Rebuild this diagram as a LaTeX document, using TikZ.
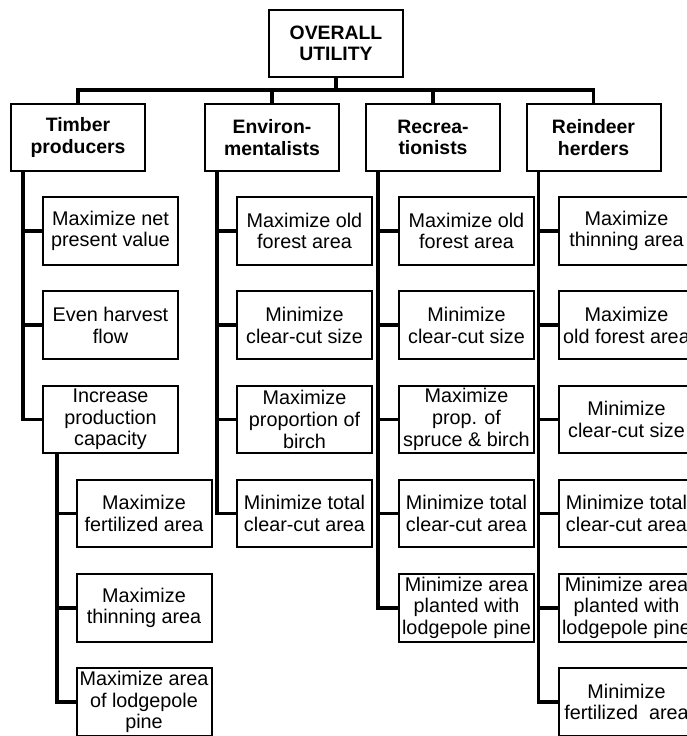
\documentclass[tikz,border=0pt]{standalone}
\usepackage{fontspec}
\setmainfont{Liberation Sans}
\begin{document}
\begin{tikzpicture}[x=1pt,y=-1pt,
  box/.style={draw, line width=2pt, fill=white, minimum width=135pt, minimum height=67.5pt, inner sep=0pt, align=center, font=\fontsize{19.8}{21.7}\selectfont},
  hbox/.style={box, minimum width=134pt, minimum height=67pt, font=\fontsize{19.4}{21.5}\selectfont\bfseries},
  conn/.style={line width=3.5pt}]
\useasboundingbox (0,0) rectangle (687,736);
\clip (0,0) rectangle (687,736);
% top and level 1
\node[hbox] (top) at (336,43.5) {OVERALL\\UTILITY};
\node[hbox] (tp) at (78,137.5) {Timber\\producers};
\node[hbox] (en) at (272,137.5) {Environ-\\mentalists};
\node[hbox] (re) at (433,137.5) {Recrea-\\tionists};
\node[hbox] (rh) at (593.5,137.5) {Reindeer\\herders};
% column 1
\node[box] (a1) at (110.5,231) {Maximize net\\present value};
\node[box] (a2) at (110.5,325.2) {Even harvest\\flow};
\node[box] (a3) at (110.5,419.4) {Increase\\production\\capacity};
\node[box] (a4) at (144,513.6) {Maximize\\fertilized area};
\node[box] (a5) at (144,607.8) {Maximize\\thinning area};
\node[box] (a6) at (144,702) {Maximize area\\of lodgepole\\pine};
% column 2
\node[box] (b1) at (304.5,231) {Maximize old\\forest area};
\node[box] (b2) at (304.5,325.2) {Minimize\\clear-cut size};
\node[box] (b3) at (304.5,419.4) {Maximize\\proportion of\\birch};
\node[box] (b4) at (304.5,513.6) {Minimize total\\clear-cut area};
% column 3
\node[box] (c1) at (466.5,231) {Maximize old\\forest area};
\node[box] (c2) at (466.5,325.2) {Minimize\\clear-cut size};
\node[box] (c3) at (466.5,419.4) {Maximize\\prop. of\\spruce \& birch};
\node[box] (c4) at (466.5,513.6) {Minimize total\\clear-cut area};
\node[box] (c5) at (466.5,607.8) {Minimize area\\planted with\\lodgepole pine};
% column 4
\node[box] (d1) at (626.5,231) {Maximize\\thinning area};
\node[box] (d2) at (626.5,325.2) {Maximize\\old forest area};
\node[box] (d3) at (626.5,419.4) {Minimize\\clear-cut size};
\node[box] (d4) at (626.5,513.6) {Minimize total\\clear-cut area};
\node[box] (d5) at (626.5,607.8) {Minimize area\\planted with\\lodgepole pine};
\node[box] (d6) at (626.5,702) {Minimize\\fertilized\ \ area};
% bus
\coordinate (bus) at (0,90);
\draw[conn] (tp.north) -- (tp.north |- bus) -- (rh.north |- bus) -- (rh.north);
\draw[conn] (top.south) -- (top.south |- bus);
\draw[conn] (en.north) -- (en.north |- bus);
\draw[conn] (re.north) -- (re.north |- bus);
% trunks
\foreach \n in {a1,a2,a3} \draw[conn] ([xshift=13pt]tp.south west) |- (\n.west);
\foreach \n in {a4,a5,a6} \draw[conn] ([xshift=15pt]a3.south west) |- (\n.west);
\foreach \n in {b1,b2,b3,b4} \draw[conn] ([xshift=13pt]en.south west) |- (\n.west);
\foreach \n in {c1,c2,c3,c4,c5} \draw[conn] ([xshift=13pt]re.south west) |- (\n.west);
\foreach \n in {d1,d2,d3,d4,d5,d6} \draw[conn] ([xshift=13pt]rh.south west) |- (\n.west);
\end{tikzpicture}
\end{document}
